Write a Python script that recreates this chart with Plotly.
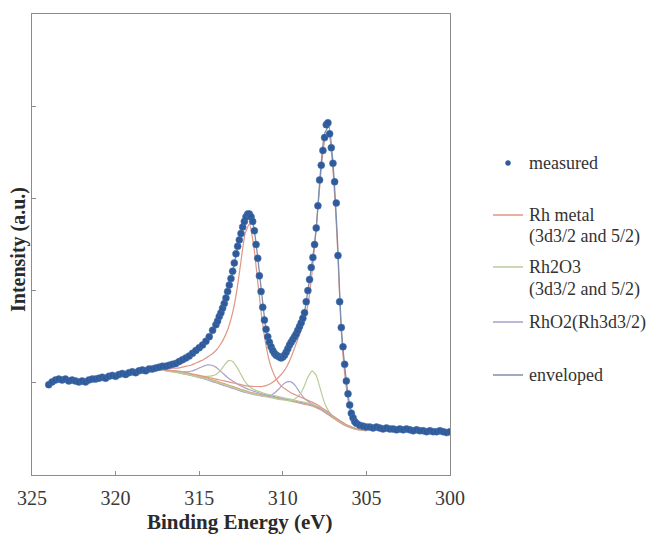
import plotly.graph_objects as go

# ---------------- data ----------------
MEAS_BE = [
    324.0, 323.8, 323.6, 323.4, 323.2, 323.0, 322.8, 322.6, 322.4, 322.2,
    322.0, 321.8, 321.6, 321.4, 321.2, 321.0, 320.8, 320.6, 320.4, 320.2,
    320.0, 319.8, 319.6, 319.4, 319.2, 319.0, 318.8, 318.6, 318.4, 318.2,
    318.0, 317.8, 317.6, 317.4, 317.2, 317.0, 316.8, 316.6, 316.4, 316.2,
    316.0, 315.8, 315.6, 315.4, 315.2, 315.0, 314.8, 314.6, 314.4, 314.2,
    314.0, 313.9, 313.8, 313.7, 313.6, 313.5, 313.4, 313.3, 313.2, 313.1,
    313.0, 312.9, 312.8, 312.7, 312.6, 312.5, 312.4, 312.3, 312.2, 312.1,
    312.0, 311.9, 311.8, 311.7, 311.6, 311.5, 311.4, 311.3, 311.2, 311.1,
    311.0, 310.9, 310.8, 310.7, 310.6, 310.5, 310.4, 310.3, 310.2, 310.1,
    310.0, 309.9, 309.8, 309.7, 309.6, 309.5, 309.4, 309.3, 309.2, 309.1,
    309.0, 308.9, 308.8, 308.7, 308.6, 308.5, 308.4, 308.3, 308.2, 308.1,
    308.0, 307.9, 307.8, 307.7, 307.6, 307.5, 307.4, 307.3, 307.2, 307.1,
    307.0, 306.9, 306.8, 306.7, 306.6, 306.5, 306.4, 306.3, 306.2, 306.1,
    306.0, 305.9, 305.8, 305.7,
    305.6, 305.4, 305.2, 305.0, 304.8, 304.6, 304.4, 304.2, 304.0, 303.8,
    303.6, 303.4, 303.2, 303.0, 302.8, 302.6, 302.4, 302.2, 302.0, 301.8,
    301.6, 301.4, 301.2, 301.0, 300.8, 300.6, 300.4, 300.2, 300.0,
]
MEAS_INT = [
    0.98, 1.01, 1.03, 1.04, 1.03, 1.04, 1.02, 1.03, 1.02, 1.01,
    1.02, 1.01, 1.03, 1.04, 1.04, 1.05, 1.06, 1.05, 1.07, 1.08,
    1.07, 1.09, 1.10, 1.09, 1.11, 1.12, 1.11, 1.13, 1.14, 1.13,
    1.15, 1.15, 1.16, 1.17, 1.18, 1.18, 1.19, 1.20, 1.21, 1.23,
    1.25, 1.27, 1.29, 1.32, 1.35, 1.38, 1.41, 1.45, 1.50, 1.57,
    1.63, 1.67, 1.72, 1.76, 1.81, 1.86, 1.92, 1.99, 2.06, 2.13,
    2.21, 2.30, 2.40, 2.48, 2.55, 2.62, 2.69, 2.75, 2.80, 2.83,
    2.83, 2.80, 2.75, 2.65, 2.50, 2.35, 2.16, 1.99, 1.82, 1.68,
    1.58, 1.50, 1.44, 1.39, 1.35, 1.32, 1.30, 1.29, 1.28, 1.27,
    1.28, 1.30, 1.33, 1.37, 1.41, 1.44, 1.47, 1.50, 1.53, 1.57,
    1.61, 1.65, 1.70, 1.76, 1.88, 2.00, 2.12, 2.25, 2.36, 2.50,
    2.68, 2.92, 3.20, 3.36, 3.52, 3.66, 3.80, 3.82, 3.70, 3.55,
    3.38, 3.18, 2.95, 2.38, 1.88, 1.60, 1.39, 1.20, 1.02, 0.88,
    0.76, 0.67, 0.62, 0.58,
    0.56, 0.54, 0.53, 0.52, 0.52, 0.51, 0.52, 0.51, 0.50, 0.51,
    0.50, 0.50, 0.49, 0.50, 0.49, 0.50, 0.49, 0.48, 0.49, 0.48,
    0.48, 0.47, 0.48, 0.47, 0.47, 0.48, 0.47, 0.46, 0.47,
]

COMP_BE = [
    317.5, 317.25, 317.0, 316.75, 316.5, 316.25, 316.0, 315.75, 315.5, 315.25,
    315.0, 314.75, 314.5, 314.25, 314.0, 313.75, 313.5, 313.25, 313.0, 312.75,
    312.5, 312.25, 312.0, 311.75, 311.5, 311.25, 311.0, 310.75, 310.5, 310.25,
    310.0, 309.75, 309.5, 309.25, 309.0, 308.75, 308.5, 308.25, 308.0, 307.75,
    307.5, 307.25, 307.0, 306.75, 306.5, 306.25, 306.0, 305.75, 305.5, 305.25,
    305.0,
]
BACKGROUND = [
    1.15, 1.145, 1.14, 1.13, 1.125, 1.12, 1.11, 1.10, 1.09, 1.08,
    1.07, 1.06, 1.05, 1.035, 1.02, 1.005, 0.99, 0.975, 0.96, 0.945,
    0.93, 0.915, 0.90, 0.89, 0.88, 0.87, 0.86, 0.85, 0.84, 0.83,
    0.82, 0.81, 0.80, 0.79, 0.78, 0.77, 0.76, 0.75, 0.73, 0.71,
    0.68, 0.65, 0.62, 0.59, 0.56, 0.535, 0.515, 0.50, 0.49, 0.485,
    0.48,
]
RH_METAL_32 = [
    1.16, 1.16, 1.16, 1.16, 1.16, 1.16, 1.17, 1.18, 1.19, 1.21,
    1.23, 1.25, 1.28, 1.31, 1.35, 1.41, 1.49, 1.60, 1.76, 2.00,
    2.32, 2.62, 2.72, 2.50, 2.10, 1.70, 1.40, 1.20, 1.08, 1.00,
    0.95, 0.92, 0.89, 0.87, 0.85, 0.83, 0.81, 0.79, 0.77, 0.74,
    0.71, 0.68, 0.64, 0.61, 0.58, 0.55, 0.53, 0.51, 0.50, 0.49,
    0.49,
]
RH_METAL_52 = [
    1.15, 1.145, 1.14, 1.135, 1.13, 1.125, 1.12, 1.11, 1.10, 1.09,
    1.08, 1.07, 1.06, 1.05, 1.04, 1.03, 1.02, 1.01, 1.00, 0.99,
    0.98, 0.97, 0.965, 0.96, 0.96, 0.96, 0.97, 0.99, 1.02, 1.06,
    1.11, 1.18, 1.28, 1.40, 1.52, 1.66, 1.84, 2.20, 2.68, 3.22,
    3.62, 3.70, 3.30, 2.55, 1.55, 1.02, 0.72, 0.58, 0.53, 0.50,
    0.49,
]
RH2O3_32 = [
    1.15, 1.145, 1.14, 1.13, 1.125, 1.12, 1.11, 1.10, 1.09, 1.08,
    1.075, 1.07, 1.07, 1.075, 1.09, 1.13, 1.19, 1.24, 1.23, 1.17,
    1.09, 1.01, 0.96, 0.93, 0.91, 0.895, 0.88, 0.87, 0.86, 0.85,
    0.84, 0.83, 0.82, 0.81, 0.80, 0.79, 0.78, 0.77, 0.75, 0.73,
    0.70, 0.67, 0.64, 0.61, 0.58, 0.55, 0.53, 0.51, 0.50, 0.49,
    0.49,
]
RH2O3_52 = [
    1.14, 1.135, 1.13, 1.12, 1.115, 1.11, 1.10, 1.09, 1.08, 1.07,
    1.06, 1.05, 1.04, 1.025, 1.01, 0.995, 0.98, 0.965, 0.95, 0.935,
    0.92, 0.905, 0.89, 0.88, 0.87, 0.86, 0.85, 0.84, 0.83, 0.82,
    0.815, 0.81, 0.81, 0.83, 0.87, 0.95, 1.06, 1.13, 1.08, 0.93,
    0.78, 0.69, 0.63, 0.60, 0.57, 0.545, 0.52, 0.505, 0.495, 0.49,
    0.485,
]
RHO2_A = [
    1.15, 1.145, 1.14, 1.135, 1.13, 1.125, 1.12, 1.12, 1.125, 1.14,
    1.16, 1.18, 1.195, 1.19, 1.17, 1.13, 1.09, 1.05, 1.02, 0.99,
    0.965, 0.945, 0.925, 0.91, 0.895, 0.88, 0.87, 0.86, 0.85, 0.84,
    0.83, 0.82, 0.81, 0.80, 0.79, 0.78, 0.77, 0.76, 0.74, 0.72,
    0.69, 0.66, 0.63, 0.60, 0.57, 0.545, 0.525, 0.51, 0.50, 0.49,
    0.485,
]
RHO2_B = [
    1.15, 1.14, 1.135, 1.125, 1.12, 1.11, 1.10, 1.09, 1.08, 1.07,
    1.055, 1.045, 1.03, 1.015, 1.0, 0.985, 0.97, 0.955, 0.94, 0.925,
    0.91, 0.895, 0.885, 0.875, 0.865, 0.855, 0.85, 0.86, 0.89, 0.93,
    0.98, 1.01, 1.01, 0.97, 0.90, 0.84, 0.80, 0.77, 0.75, 0.72,
    0.69, 0.66, 0.625, 0.595, 0.565, 0.54, 0.52, 0.505, 0.495, 0.49,
    0.485,
]
ENVELOPE = [
    1.16, 1.17, 1.18, 1.19, 1.20, 1.22, 1.24, 1.27, 1.30, 1.34,
    1.38, 1.42, 1.47, 1.53, 1.61, 1.72, 1.86, 2.01, 2.20, 2.43,
    2.62, 2.77, 2.82, 2.70, 2.36, 1.95, 1.58, 1.42, 1.33, 1.29,
    1.28, 1.34, 1.43, 1.51, 1.60, 1.72, 2.00, 2.30, 2.68, 3.28,
    3.70, 3.78, 3.38, 2.62, 1.60, 1.10, 0.76, 0.61, 0.55, 0.52,
    0.51,
]

X_TICKS = [325, 320, 315, 310, 305, 300]
LEGEND_LABELS = ["measured", "Rh metal", "(3d3/2 and 5/2)", "Rh2O3",
                 "(3d3/2 and 5/2)", "RhO2(Rh3d3/2)", "enveloped"]

# ---------------- styles ----------------
C_MEAS = "#2F5B9B"
C_RH = "#E29585"
C_RH2O3 = "#B9CC98"
C_RHO2 = "#A99FCB"
C_ENV = "#7A8FAE"
C_BG = "#D9A574"
SERIF = "Liberation Serif, Times New Roman, serif"

# the page body adds an 8px offset; the figure is sized to compensate
OFF = 8
W, H = 654 - OFF, 542 - OFF
L, R, T, B = 32 - OFF, 204, 14 - OFF, 67
PW, PH = W - L - R, H - T - B


def px(x):
    # x given in window pixels
    return (x - OFF - L) / PW


def py(y):
    return (H - B - (y - OFF)) / PH


fig = go.Figure()


def line(x, y, color, width=1.2):
    fig.add_trace(go.Scatter(x=x, y=y, mode="lines", showlegend=False,
                             hoverinfo="skip",
                             line=dict(color=color, width=width, shape="spline",
                                       smoothing=0.6)))


line(COMP_BE, BACKGROUND, C_BG, 1.3)
line(COMP_BE, RHO2_A, C_RHO2)
line(COMP_BE, RHO2_B, C_RHO2)
line(COMP_BE, RH2O3_32, C_RH2O3)
line(COMP_BE, RH2O3_52, C_RH2O3)
line(COMP_BE, RH_METAL_32, C_RH)
line(COMP_BE, RH_METAL_52, C_RH)
line(COMP_BE, ENVELOPE, C_ENV, 1.3)

fig.add_trace(go.Scatter(x=MEAS_BE, y=MEAS_INT, mode="markers", showlegend=False,
                         marker=dict(color=C_MEAS, size=7,
                                     line=dict(color="#4A74B0", width=0.5))))

axis_common = dict(showline=True, linecolor="#8C8C8C", linewidth=1, mirror=True,
                   showgrid=False, zeroline=False, ticks="inside", ticklen=4,
                   tickcolor="#8C8C8C")

fig.update_xaxes(range=[325, 300], tickvals=X_TICKS,
                 ticktext=[str(v) for v in X_TICKS],
                 tickfont=dict(family=SERIF, size=20, color="#3A3A3A"),
                 ticklabelstandoff=5, **axis_common)
fig.update_yaxes(range=[0, 5], tickvals=[1, 2, 3, 4], showticklabels=False,
                 **axis_common)

ann = []
shapes = []
# axis titles
ann.append(dict(x=px(240), y=py(522), xref="paper", yref="paper",
                xanchor="center", yanchor="middle",
                text="<b>Binding Energy (eV)</b>", showarrow=False,
                font=dict(family=SERIF, size=21, color="#2A2A2A")))
ann.append(dict(x=px(18), y=py(250), xref="paper", yref="paper",
                xanchor="center", yanchor="middle",
                text="<b>Intensity (a.u.)</b>", showarrow=False, textangle=-90,
                font=dict(family=SERIF, size=20, color="#2A2A2A")))

# manual legend
text_x = 527
text_ys = [163, 215, 237, 267, 289, 322, 375]
for lab, yy in zip(LEGEND_LABELS, text_ys):
    ann.append(dict(x=px(text_x), y=py(yy), xref="paper", yref="paper",
                    text=lab, showarrow=False, xanchor="left", yanchor="middle",
                    font=dict(family=SERIF, size=18, color="#333333")))

for yy, col in [(215, C_RH), (267, C_RH2O3), (322, C_RHO2), (375, C_ENV)]:
    shapes.append(dict(type="line", xref="paper", yref="paper",
                       x0=px(493), x1=px(523), y0=py(yy), y1=py(yy),
                       line=dict(color=col, width=1.5)))
shapes.append(dict(type="circle", xref="paper", yref="paper",
                   x0=px(505.5), x1=px(510.5), y0=py(165.5), y1=py(160.5),
                   fillcolor=C_MEAS, line=dict(color=C_MEAS, width=0.5)))

fig.update_layout(width=W, height=H, margin=dict(l=L, r=R, t=T, b=B),
                  plot_bgcolor="white", paper_bgcolor="white",
                  annotations=ann, shapes=shapes, showlegend=False)

fig.write_html("out.html")
